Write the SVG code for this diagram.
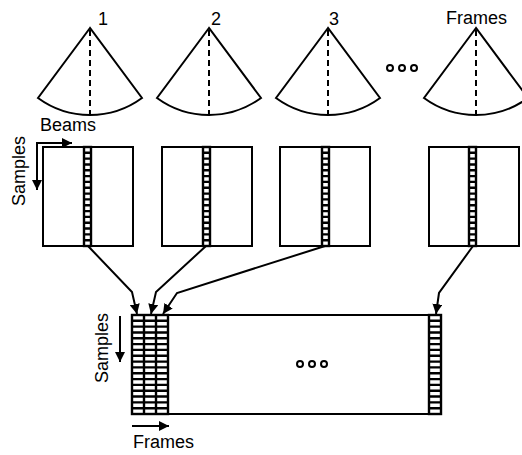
<svg xmlns="http://www.w3.org/2000/svg" width="522" height="455" viewBox="0 0 522 455">
<defs>
<style>
.t{font-family:"Liberation Sans",Arial,sans-serif;font-size:18px;fill:#000}
.o{fill:none;stroke:#000;stroke-width:2}
.d{fill:none;stroke:#000;stroke-width:2;stroke-dasharray:6,4}
.c{fill:none;stroke:#000;stroke-width:2;marker-end:url(#ah)}
.dot{fill:#fff;stroke:#000;stroke-width:2}
.rung{fill:none;stroke:#000;stroke-width:2.4}
.s{fill:none;stroke:#000;stroke-width:2.4}
</style>
<marker id="ah" viewBox="0 0 10 10" refX="10" refY="5" markerWidth="5" markerHeight="5" orient="auto" markerUnits="strokeWidth">
<path d="M0,0 L10,5 L0,10 Z" fill="#000"/>
</marker>
<path id="ladder7" class="rung" d="M0,5.8h7M0,11.6h7M0,17.5h7M0,23.3h7M0,29.1h7M0,34.9h7M0,40.8h7M0,46.6h7M0,52.4h7M0,58.2h7M0,64.1h7M0,69.9h7M0,75.7h7M0,81.5h7M0,87.4h7M0,93.2h7"/>
<path id="ladder12" class="rung" d="M0,5.8h12M0,11.6h12M0,17.5h12M0,23.3h12M0,29.1h12M0,34.9h12M0,40.8h12M0,46.6h12M0,52.4h12M0,58.2h12M0,64.1h12M0,69.9h12M0,75.7h12M0,81.5h12M0,87.4h12M0,93.2h12"/>
</defs>

<g id="fan1">
<path class="o" d="M90,28 L38,98 A88,88 0 0 0 142,98 Z"/>
<line class="d" x1="90" y1="30" x2="90" y2="116"/>
<text class="t" x="98" y="25">1</text>
</g>
<g id="fan2">
<path class="o" d="M209,28 L157,98 A88,88 0 0 0 261,98 Z"/>
<line class="d" x1="209" y1="30" x2="209" y2="116"/>
<text class="t" x="211" y="25">2</text>
</g>
<g id="fan3">
<path class="o" d="M328,28 L276,98 A88,88 0 0 0 380,98 Z"/>
<line class="d" x1="328" y1="30" x2="328" y2="116"/>
<text class="t" x="329" y="25">3</text>
</g>
<g id="dots-top">
<circle class="dot" cx="390" cy="68" r="3"/>
<circle class="dot" cx="402" cy="68" r="3"/>
<circle class="dot" cx="414" cy="68" r="3"/>
</g>
<g id="fan4">
<path class="o" d="M476,28 L424,98 A88,88 0 0 0 528,98 Z"/>
<line class="d" x1="476" y1="30" x2="476" y2="116"/>
<text class="t" x="446" y="24">Frames</text>
</g>

<g id="axes-top">
<text class="t" x="40" y="131">Beams</text>
<text class="t" transform="translate(25,171) rotate(-90)" text-anchor="middle">Samples</text>
<line class="c" x1="37" y1="142" x2="37" y2="190"/>
<line class="c" x1="36" y1="143" x2="72" y2="143"/>
</g>

<g id="frame1">
<rect class="o" x="43" y="147" width="90" height="99"/>
<use href="#ladder7" x="84" y="147"/>
<rect class="s" x="84" y="147" width="7" height="99"/>
</g>
<g id="frame2">
<rect class="o" x="162" y="147" width="90" height="99"/>
<use href="#ladder7" x="203" y="147"/>
<rect class="s" x="203" y="147" width="7" height="99"/>
</g>
<g id="frame3">
<rect class="o" x="280" y="147" width="90" height="99"/>
<use href="#ladder7" x="322" y="147"/>
<rect class="s" x="322" y="147" width="7" height="99"/>
</g>
<g id="frame4">
<rect class="o" x="429" y="147" width="90" height="99"/>
<use href="#ladder7" x="469" y="147"/>
<rect class="s" x="469" y="147" width="7" height="99"/>
</g>

<g id="matrix">
<rect class="o" x="132" y="315" width="309" height="99"/>
<use href="#ladder12" x="132" y="315"/>
<use href="#ladder12" x="144" y="315"/>
<use href="#ladder12" x="156" y="315"/>
<use href="#ladder12" x="429" y="315"/>
<rect class="s" x="132" y="315" width="36" height="99"/>
<line class="s" x1="144" y1="315" x2="144" y2="414"/>
<line class="s" x1="156" y1="315" x2="156" y2="414"/>
<rect class="s" x="429" y="315" width="12" height="99"/>
<circle class="dot" cx="300" cy="364" r="3"/>
<circle class="dot" cx="312" cy="364" r="3"/>
<circle class="dot" cx="324" cy="364" r="3"/>
</g>

<g id="axes-bottom">
<text class="t" transform="translate(108,348) rotate(-90)" text-anchor="middle">Samples</text>
<line class="c" x1="120" y1="316" x2="120" y2="362"/>
<line class="c" x1="132" y1="426" x2="169" y2="426"/>
<text class="t" x="133" y="448">Frames</text>
</g>

<g id="connectors">
<polyline class="c" points="88,246 132,292 137,314"/>
<polyline class="c" points="206,246 156,292 151,314"/>
<polyline class="c" points="325,246 177,293 163,314"/>
<polyline class="c" points="473,246 439,293 436,314"/>
</g>
</svg>
